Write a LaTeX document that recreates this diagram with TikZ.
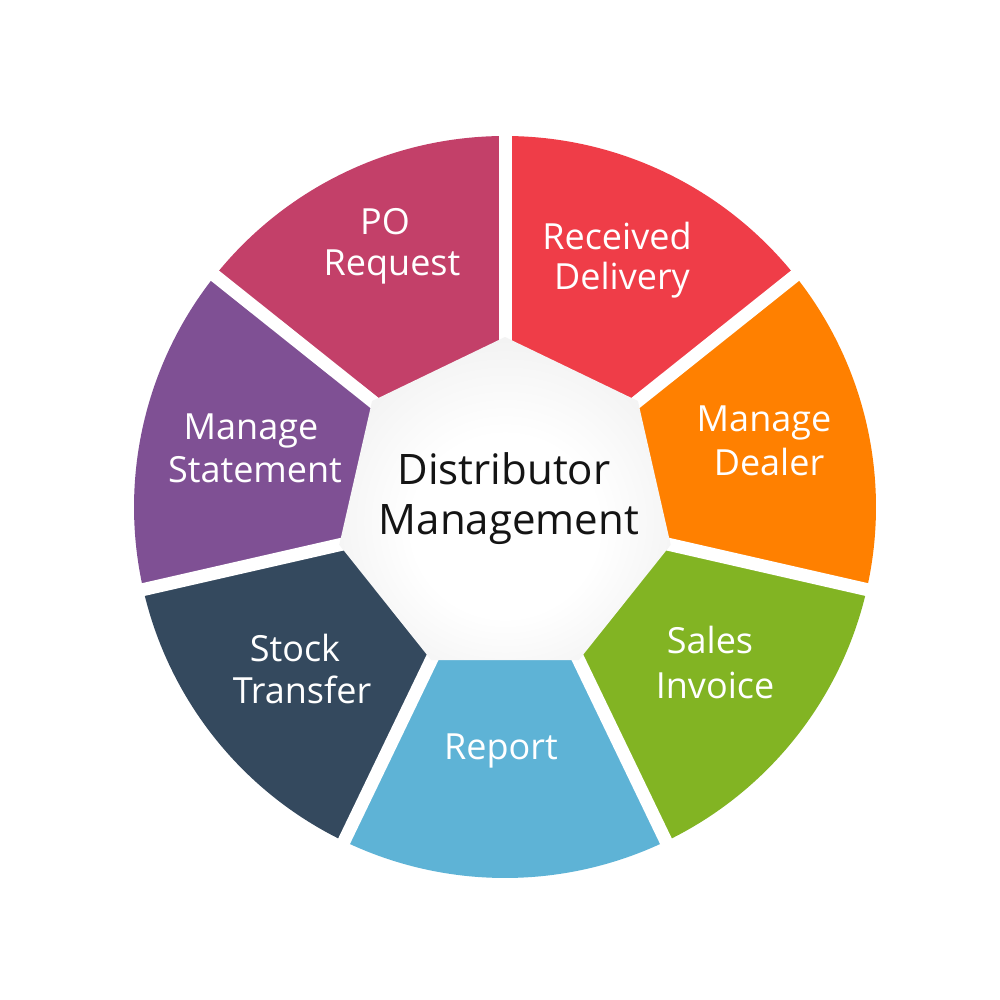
\documentclass[tikz,border=0pt]{standalone}
\usepackage{fontspec}
\setmainfont{Open Sans}
\definecolor{cPO}{RGB}{195,64,105}
\definecolor{cRD}{RGB}{239,61,72}
\definecolor{cMD}{RGB}{255,128,0}
\definecolor{cSI}{RGB}{130,180,35}
\definecolor{cRE}{RGB}{94,179,214}
\definecolor{cST}{RGB}{52,73,94}
\definecolor{cMS}{RGB}{127,80,148}
\definecolor{cTX}{RGB}{20,20,20}
\pgfdeclareradialshading{heptshade}{\pgfpoint{0bp}{-6bp}}{color(0bp)=(white); color(14bp)=(white); color(34bp)=(black!7); color(46bp)=(black!17); color(50bp)=(black!22)}
\begin{document}
\begin{tikzpicture}[x=1pt,y=-1pt,
  lbl/.style={text=white, font=\fontsize{36}{42}\selectfont, anchor=base, inner sep=0pt},
  ctr/.style={text=cTX, font=\fontsize{42}{50}\selectfont, anchor=base, inner sep=0pt},
  gap/.style={white, line width=13pt}]
\useasboundingbox (0,0) rectangle (1000,1000);
\fill[white] (0,0) rectangle (1000,1000);
\coordinate (c) at (505,507);
% segments
\foreach \k/\col in {0/cRD,1/cMD,2/cSI,3/cRE,4/cST,5/cMS,6/cPO}{
  \pgfmathsetmacro\aa{-(90-\k*360/7)}
  \pgfmathsetmacro\bb{-(90-(\k+1)*360/7)}
  \fill[\col] (c) -- ++(\aa:371) arc[start angle=\aa, end angle=\bb, radius=371] -- cycle;
}
% gaps
\foreach \k in {0,...,6}{
  \pgfmathsetmacro\aa{-(90-\k*360/7)}
  \draw[gap] (c) -- ++(\aa:400);
}
% central heptagon
\path[shading=heptshade, shift={(505,507)}] (-90:170) -- (-38.571:170) -- (12.857:170) -- (64.286:170) -- (115.714:170) -- (167.143:170) -- (218.571:170) -- cycle;
% labels
\node[lbl] (po1) at (385,235) {PO};
\node[lbl] (po2) at (392,275) {Request};
\node[lbl] (rd1) at (617,249) {Received};
\node[lbl] (rd2) at (622,289) {Delivery};
\node[lbl] (md1) at (764,431) {Manage};
\node[lbl] (md2) at (769,475) {Dealer};
\node[lbl] (si1) at (710,653) {Sales};
\node[lbl] (si2) at (715,698) {Invoice};
\node[lbl] (re1) at (501,759) {Report};
\node[lbl] (st1) at (295,661) {Stock};
\node[lbl] (st2) at (302,703) {Transfer};
\node[lbl] (ms1) at (251,439) {Manage};
\node[lbl] (ms2) at (255,482) {Statement};
\node[ctr] (dm1) at (504,484) {Distributor};
\node[ctr] (dm2) at (509,534) {Management};
\end{tikzpicture}
\end{document}
